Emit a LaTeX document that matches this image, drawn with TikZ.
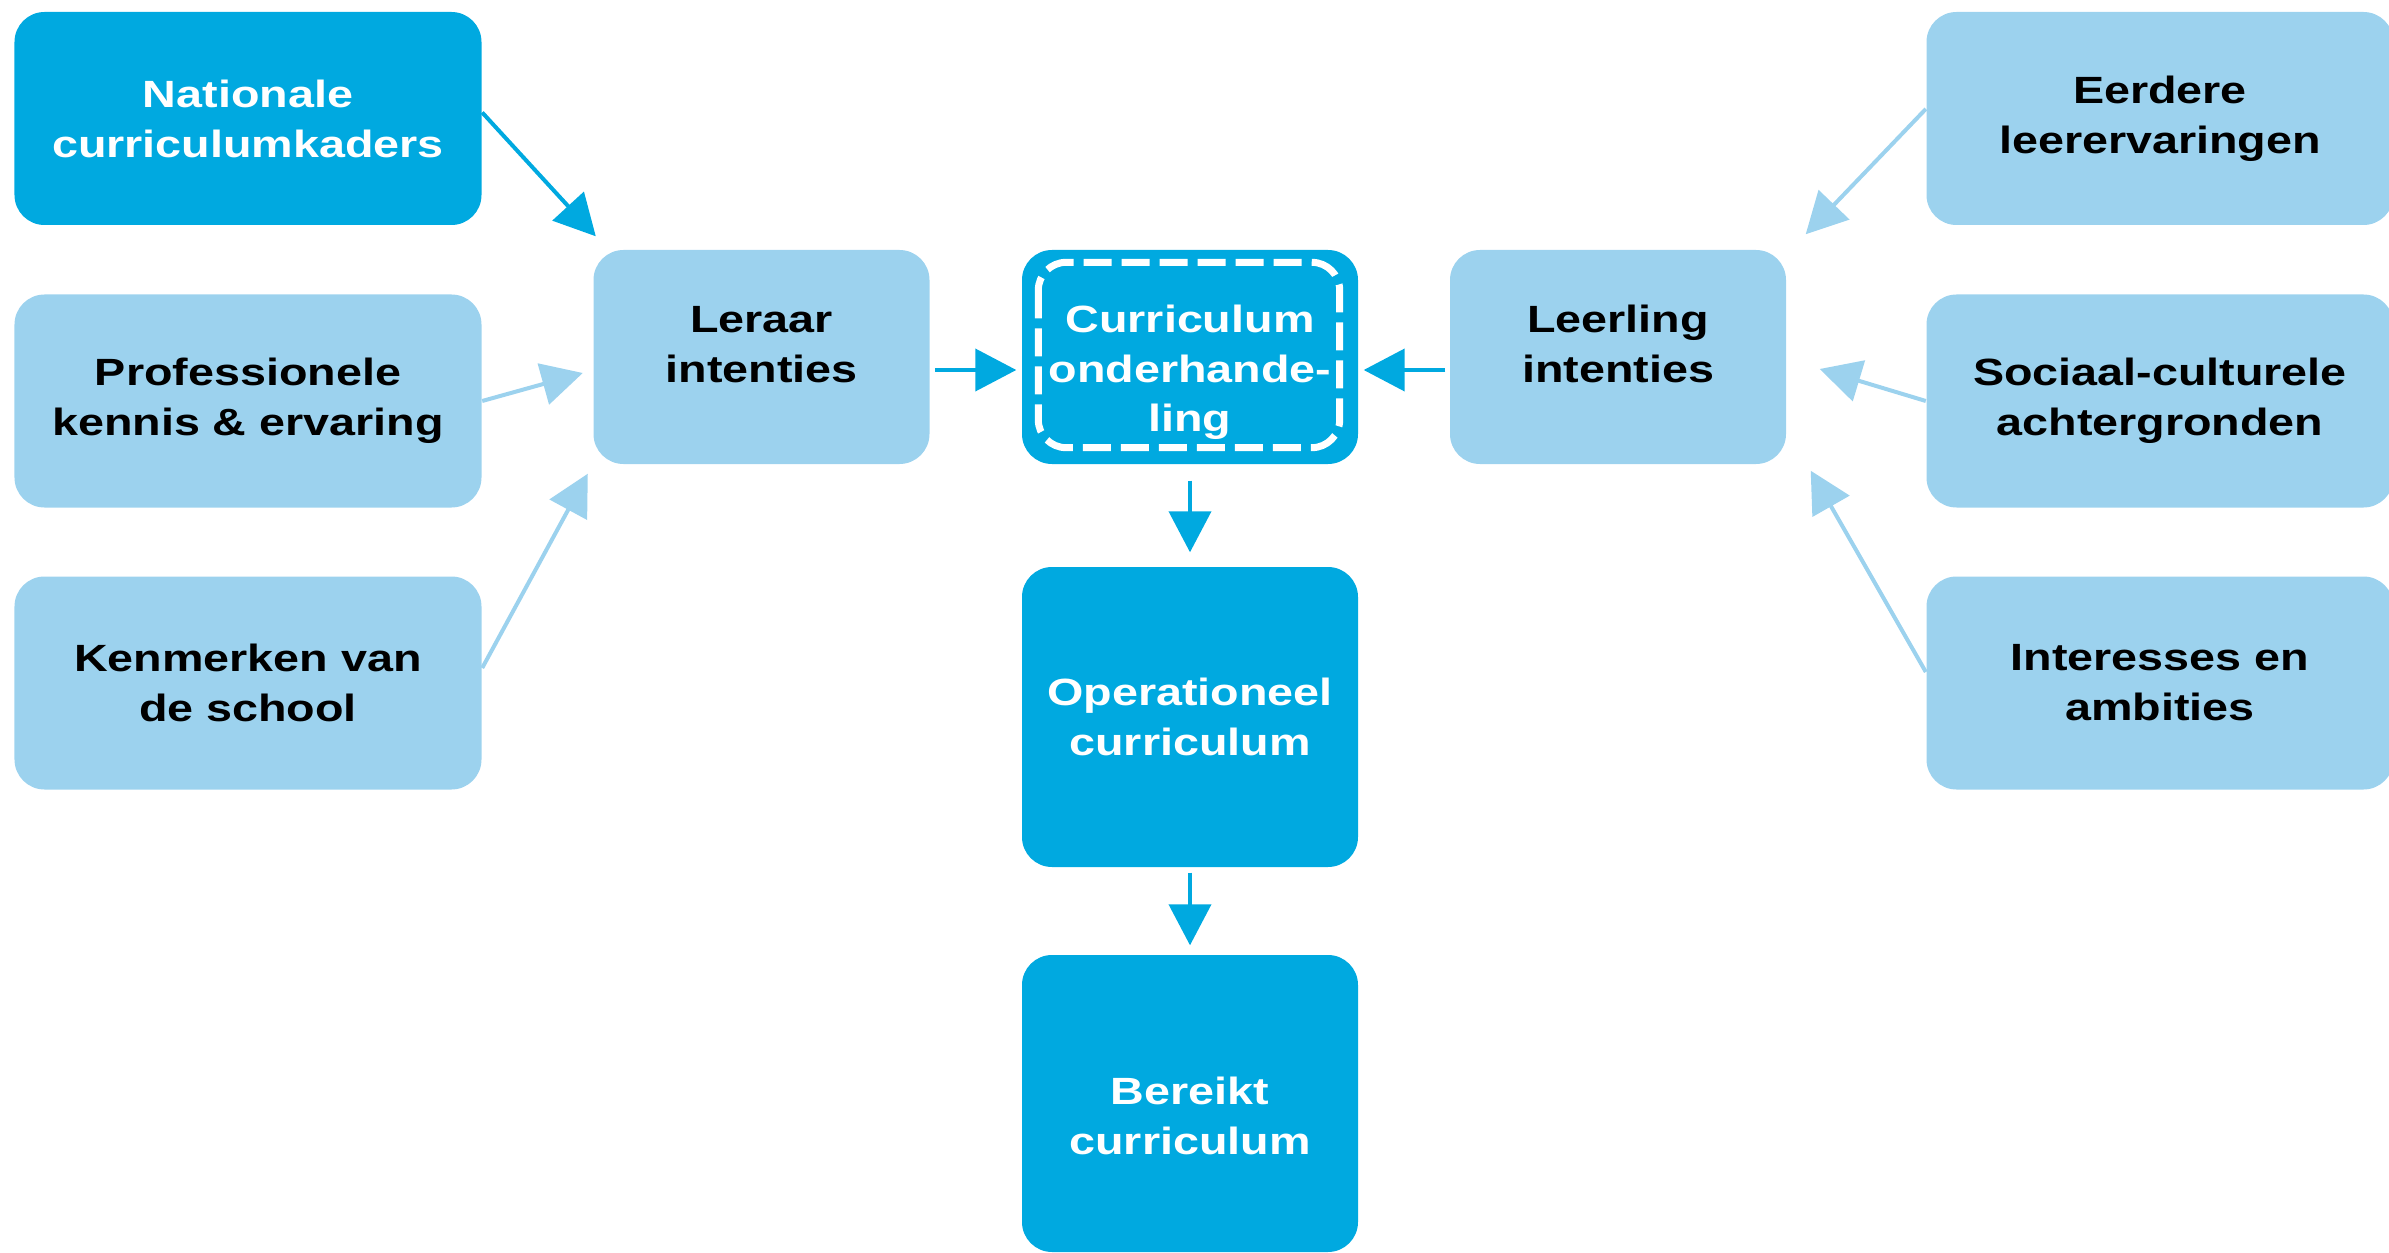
\documentclass[tikz,border=0pt]{standalone}
\usepackage{fontspec}
\setmainfont{Liberation Sans}[FakeStretch=1.23]
\usetikzlibrary{arrows.meta}

\definecolor{slodark}{RGB}{0,169,224}
\definecolor{slolight}{RGB}{156,210,238}
\tikzstyle{block}=[rectangle,rounded corners=0.3cm,inner sep=0pt,align=center,font=\fontsize{10.8}{14.2}\selectfont\bfseries]
\tikzstyle{darkblock}=[block,fill=slodark,text=white]
\tikzstyle{lightblock}=[block,fill=slolight,text=black]
\tikzstyle{sidesize}=[minimum width=4.67cm,minimum height=2.13cm]
\tikzstyle{midsize}=[minimum width=3.36cm,minimum height=2.14cm]
\tikzstyle{midtext}=[text height=0.8cm,text depth=0.3cm]
\tikzstyle{innerdash}=[white,line width=0.07cm,dash pattern=on 0.28cm off 0.1cm,rounded corners=0.28cm]
\tikzstyle{darkarrow}=[slodark,line width=0.04cm,-{Triangle[length=0.41cm,width=0.42cm]}]
\tikzstyle{lightarrow}=[slolight,line width=0.04cm,-{Triangle[length=0.41cm,width=0.42cm]}]

\begin{document}
\begin{tikzpicture}
		\clip (0,0) rectangle (23.89,-12.53);
		% teacher side
		\node (nat) at (2.48,-1.185) [darkblock,sidesize] {Nationale\\curriculumkaders};
		\node (prof) at (2.48,-4.01) [lightblock,sidesize] {Professionele\\kennis \& ervaring};
		\node (kenm) at (2.48,-6.83) [lightblock,sidesize] {Kenmerken van\\de school};
		\node (ler) at (7.615,-3.57) [lightblock,midsize,midtext] {Leraar\\intenties};
		
		% middle column
		\node (curr) at (11.9,-3.57) [darkblock,midsize,text height=1.58cm,text depth=0.08cm] {Curriculum\\onderhande-\\ling};
		\node (oper) at (11.9,-7.17) [darkblock,minimum width=3.36cm,minimum height=3.0cm] {Operationeel\\curriculum};
		\node (ber) at (11.9,-11.035) [darkblock,minimum width=3.36cm,minimum height=2.97cm,text height=1.02cm,text depth=0cm] {Bereikt\\curriculum};
		
		% student side
		\node (leer) at (16.18,-3.57) [lightblock,midsize,midtext] {Leerling\\intenties};
		\node (eer) at (21.6,-1.185) [lightblock,sidesize] {Eerdere\\leerervaringen};
		\node (soc) at (21.6,-4.01) [lightblock,sidesize] {Sociaal-culturele\\achtergronden};
		\node (int) at (21.6,-6.83) [lightblock,sidesize] {Interesses en\\ambities};
		
		\draw[innerdash] ([shift={(0.17,-0.13)}]curr.north west) rectangle ([shift={(-0.19,0.17)}]curr.south east);
		
		\draw[darkarrow] ([yshift=0.06cm]nat.east) -- ([shift={(0.03,0.13)}]ler.north west);
		\draw[lightarrow] (prof.east) -- ([shift={(-0.10,-0.16)}]ler.west);
		\draw[lightarrow] ([yshift=0.15cm]kenm.east) -- ([shift={(-0.05,-0.09)}]ler.south west);
		\draw[darkarrow] ([shift={(0.05,-0.13)}]ler.east) -- ([shift={(-0.05,-0.13)}]curr.west);
		
		\draw[lightarrow] ([yshift=0.095cm]eer.west) -- ([shift={(0.19,0.15)}]leer.north east);
		\draw[lightarrow] (soc.west) -- ([shift={(0.33,-0.12)}]leer.east);
		\draw[lightarrow] ([yshift=0.11cm]int.west) -- ([shift={(0.24,-0.06)}]leer.south east);
		\draw[darkarrow] ([shift={(-0.04,-0.13)}]leer.west) -- ([shift={(0.05,-0.13)}]curr.east);
		
		\draw[darkarrow] ([yshift=-0.16cm]curr.south) -- ([yshift=0.14cm]oper.north);
		\draw[darkarrow] ([yshift=-0.05cm]oper.south) -- ([yshift=0.09cm]ber.north);
\end{tikzpicture}
\end{document}
